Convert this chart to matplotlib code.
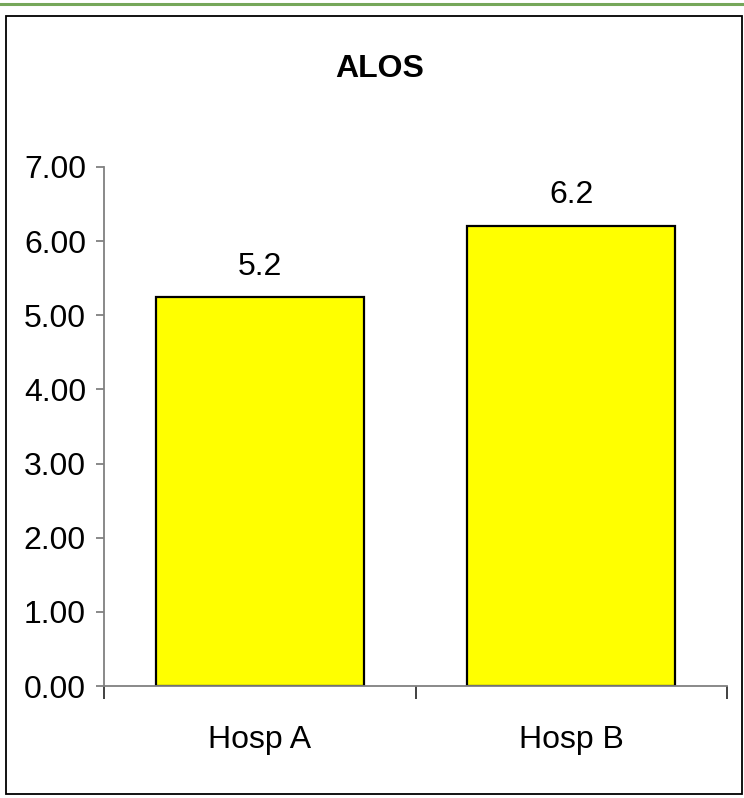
import matplotlib.pyplot as plt
from matplotlib.patches import Rectangle
from matplotlib.lines import Line2D
from matplotlib.ticker import FormatStrFormatter

# average length of stay per hospital
hospitals = ["Hosp A", "Hosp B"]
alos = [5.24, 6.21]
y_ticks = [0, 1, 2, 3, 4, 5, 6, 7]

font = ["Liberation Sans", "DejaVu Sans"]
plt.rcParams["font.family"] = font

fig = plt.figure(figsize=(7.44, 7.98), dpi=100)
W, H = 744, 798

# green rule across the top and the chart frame
fig.add_artist(Line2D([0, 1], [1 - 4 / H, 1 - 4 / H], color="#76A75A", lw=2.2,
                      transform=fig.transFigure))
fig.add_artist(Rectangle((6 / W, 1 - 794 / H), 736 / W, 778 / H, fill=False,
                         edgecolor="black", lw=1.3, transform=fig.transFigure))

ax = fig.add_axes([104 / W, 1 - 686 / H, 623 / W, 519 / H])
x = list(range(len(hospitals)))
bars = ax.bar(x, alos, width=0.667, color="#FFFF00", edgecolor="black", lw=1.6)

for b, v in zip(bars, alos):
    ax.annotate("%.1f" % v, (b.get_x() + b.get_width() / 2, v),
                xytext=(0, 16), textcoords="offset points",
                ha="center", va="baseline", fontsize=23)

ax.set_xlim(-0.5, 1.5)
ax.set_ylim(0, 7)
ax.set_yticks(y_ticks)
ax.yaxis.set_major_formatter(FormatStrFormatter("%.2f"))
ax.set_xticks(x)
ax.set_xticklabels(hospitals)
ax.set_xticks([-0.5, 0.5, 1.5], minor=True)

for s in ["top", "right"]:
    ax.spines[s].set_visible(False)
for s in ["left", "bottom"]:
    ax.spines[s].set_color("#808080")
    ax.spines[s].set_linewidth(1.3)

ax.tick_params(axis="y", length=6, width=1.3, color="#808080", pad=7, labelsize=23)
ax.tick_params(axis="x", which="major", length=0, pad=28, labelsize=23)
ax.tick_params(axis="x", which="minor", length=9, width=1.3, color="#333333")

fig.text(380 / W, 1 - 77 / H, "ALOS", ha="center", va="baseline",
         fontsize=23, fontweight="bold")

fig.savefig("out.png", dpi=100)
